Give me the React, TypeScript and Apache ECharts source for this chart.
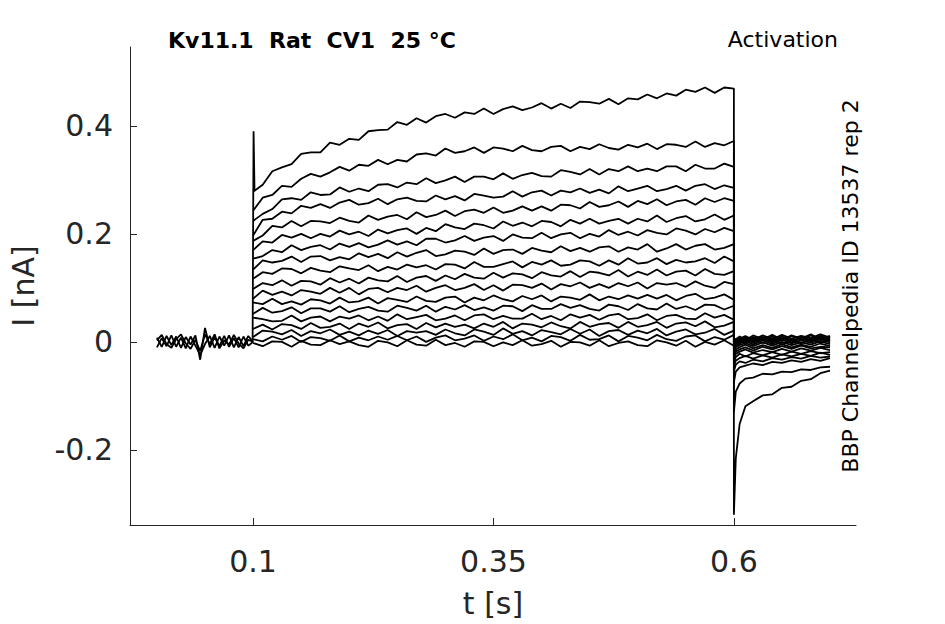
import React, { useEffect, useRef } from "react";
import * as echarts from "echarts";

// Axis ticks
const xTicks = [0.1, 0.35, 0.6];
const yTicks = [-0.2, 0, 0.2, 0.4];

// Holding period (s) and three overlapping baseline recordings (pA)
const baselineTimes = [0, 0.005, 0.01, 0.015, 0.02, 0.025, 0.03, 0.035, 0.04, 0.045, 0.05, 0.055, 0.06, 0.065, 0.07, 0.075, 0.08, 0.085, 0.09, 0.095, 0.1];
const baselineA = [8, -9, 11, -6, 10, -11, 9, -5, 12, -33, 26, -10, 9, -8, 11, -9, 7, -10, 10, -7, 0];
const baselineB = [-10, 7, -8, 12, -9, 8, -12, 10, -7, -24, -4, 11, -11, 10, -7, 12, -10, 9, -8, 11, 0];
const baselineC = [3, 13, -4, -11, 5, 14, -3, -13, 4, -17, 14, -4, 14, -12, 3, -5, 13, -3, -12, 4, 0];

// Capacitive transient at step onset
const capTimes = [0.0995, 0.1005, 0.1015];
const capPA = [0, 390, 280];

// Test pulse samples (s)
const stepTimes = [0.1, 0.11, 0.12, 0.13, 0.14, 0.15, 0.16, 0.17, 0.18, 0.19, 0.2, 0.21, 0.22, 0.23, 0.24, 0.25, 0.26, 0.27, 0.28, 0.29, 0.3, 0.31, 0.32, 0.33, 0.34, 0.35, 0.36, 0.37, 0.38, 0.39, 0.4, 0.41, 0.42, 0.43, 0.44, 0.45, 0.46, 0.47, 0.48, 0.49, 0.5, 0.51, 0.52, 0.53, 0.54, 0.55, 0.56, 0.57, 0.58, 0.59, 0.6];

// Currents during the test pulse, one row per sweep (pA)
const stepTracesPA = [
  [278, 291, 316, 323, 329, 348, 351, 351, 369, 365, 376, 374, 390, 392, 393, 407, 402, 414, 406, 418, 422, 415, 425, 422, 432, 422, 431, 436, 429, 434, 442, 432, 441, 433, 445, 444, 441, 450, 440, 451, 449, 458, 451, 460, 456, 467, 463, 471, 461, 471, 469],
  [243, 267, 272, 289, 287, 302, 311, 306, 314, 324, 317, 328, 326, 337, 329, 337, 334, 347, 349, 345, 358, 350, 353, 360, 350, 360, 358, 353, 363, 355, 353, 361, 363, 353, 361, 357, 366, 359, 356, 365, 360, 367, 357, 366, 365, 361, 371, 361, 368, 364, 372],
  [224, 237, 246, 264, 266, 263, 277, 272, 273, 286, 278, 284, 279, 291, 292, 286, 295, 292, 303, 294, 299, 306, 296, 306, 306, 301, 312, 302, 309, 313, 307, 306, 318, 315, 310, 320, 310, 320, 316, 325, 316, 321, 316, 325, 325, 316, 328, 321, 321, 330, 324],
  [197, 226, 228, 241, 238, 252, 248, 255, 248, 258, 263, 254, 257, 265, 255, 264, 267, 261, 260, 271, 264, 270, 262, 274, 271, 267, 269, 279, 269, 277, 280, 271, 280, 277, 284, 276, 282, 275, 288, 279, 284, 289, 279, 283, 289, 280, 289, 292, 283, 290, 285],
  [187, 197, 215, 212, 224, 214, 224, 223, 220, 230, 224, 221, 234, 226, 232, 235, 227, 240, 231, 235, 243, 233, 242, 245, 239, 249, 239, 243, 251, 243, 251, 243, 254, 253, 247, 259, 250, 253, 260, 250, 261, 255, 264, 253, 260, 263, 254, 266, 259, 266, 261],
  [170, 186, 184, 198, 193, 200, 192, 200, 195, 206, 199, 204, 196, 208, 201, 207, 210, 200, 211, 205, 218, 212, 209, 219, 216, 210, 223, 215, 221, 214, 224, 222, 214, 226, 219, 228, 219, 224, 228, 219, 228, 223, 234, 222, 229, 233, 223, 227, 236, 226, 234],
  [154, 159, 170, 166, 179, 170, 176, 179, 171, 182, 176, 183, 175, 180, 188, 180, 186, 179, 191, 191, 184, 188, 196, 187, 193, 196, 187, 199, 193, 192, 202, 192, 199, 202, 192, 200, 195, 207, 198, 204, 197, 207, 202, 199, 210, 206, 199, 209, 203, 211, 205],
  [134, 151, 147, 150, 158, 148, 158, 159, 151, 157, 153, 164, 157, 163, 155, 166, 158, 165, 170, 159, 162, 169, 167, 161, 173, 163, 170, 171, 163, 174, 169, 166, 177, 168, 174, 167, 175, 177, 167, 175, 171, 181, 167, 173, 181, 171, 178, 181, 171, 174, 181],
  [117, 129, 126, 136, 135, 127, 137, 132, 129, 140, 136, 133, 142, 131, 139, 134, 143, 138, 142, 134, 144, 143, 136, 148, 139, 139, 144, 149, 138, 148, 143, 151, 141, 143, 151, 149, 141, 151, 143, 155, 145, 147, 155, 144, 152, 147, 149, 155, 146, 158, 149],
  [98, 109, 105, 114, 104, 113, 112, 106, 118, 110, 117, 108, 119, 114, 112, 122, 111, 119, 122, 113, 123, 116, 126, 119, 117, 128, 119, 127, 125, 118, 129, 123, 121, 131, 120, 130, 128, 123, 133, 121, 130, 124, 134, 123, 130, 132, 123, 135, 126, 124, 131],
  [80, 95, 87, 93, 86, 96, 93, 89, 100, 91, 100, 88, 98, 100, 92, 100, 96, 104, 93, 100, 105, 96, 100, 107, 96, 105, 95, 106, 105, 100, 108, 97, 107, 103, 110, 100, 107, 100, 109, 103, 110, 99, 109, 106, 109, 102, 112, 104, 100, 111, 107],
  [73, 70, 80, 70, 75, 69, 79, 77, 71, 82, 73, 75, 82, 71, 81, 78, 74, 84, 76, 74, 82, 84, 73, 82, 77, 86, 79, 75, 85, 79, 86, 75, 84, 82, 78, 88, 77, 84, 79, 86, 80, 87, 80, 87, 77, 85, 89, 79, 82, 88, 78],
  [52, 63, 54, 57, 64, 53, 62, 62, 56, 66, 55, 61, 65, 58, 56, 67, 63, 58, 67, 56, 65, 60, 68, 59, 64, 58, 67, 66, 57, 68, 61, 61, 70, 63, 68, 61, 58, 69, 66, 59, 70, 62, 60, 71, 61, 66, 59, 69, 68, 60, 67],
  [45, 42, 38, 39, 49, 38, 45, 47, 38, 47, 43, 49, 40, 47, 39, 51, 42, 46, 50, 40, 43, 49, 40, 49, 51, 42, 48, 43, 43, 52, 42, 48, 40, 51, 45, 50, 41, 49, 52, 42, 44, 51, 40, 48, 50, 43, 42, 53, 45, 50, 41],
  [24, 32, 23, 33, 31, 24, 35, 26, 28, 34, 24, 34, 28, 36, 25, 31, 33, 24, 35, 27, 34, 28, 32, 25, 34, 28, 37, 25, 34, 32, 27, 36, 29, 25, 37, 28, 33, 35, 26, 37, 28, 31, 37, 26, 34, 36, 29, 38, 27, 30, 37],
  [9, 21, 19, 14, 22, 11, 20, 16, 23, 13, 19, 12, 21, 15, 22, 11, 20, 17, 20, 13, 23, 16, 12, 23, 19, 13, 25, 15, 20, 12, 22, 18, 14, 24, 15, 23, 11, 20, 22, 13, 21, 16, 24, 12, 19, 23, 14, 17, 24, 13, 21],
  [5, 1, 10, 4, 11, 0, 9, 7, 2, 12, 1, 8, 3, 10, 4, 11, 3, 10, 0, 8, 12, 3, 6, 12, 2, 10, 5, 14, 3, 8, 1, 11, 9, 2, 13, 4, 5, 12, 1, 11, 8, 3, 13, 5, 2, 10, 12, 1, 9, 4, 13],
  [-2, -8, 1, 0, -9, 2, -5, -6, 3, -4, 1, -6, -9, 2, -1, -8, 3, -5, -7, 4, -6, -2, -9, 1, 0, -8, -1, -6, 3, -7, -4, 2, -9, 0, -1, -7, 3, -8, -2, 1, -6, -8, 3, -1, -7, 2, -9, 0, -5, 3, -7],
];

// Tail currents after repolarisation (s, pA)
const tailTimes = [0.6, 0.602, 0.606, 0.612, 0.62, 0.63, 0.64, 0.65, 0.66, 0.67, 0.68, 0.69, 0.7];
const tailTracesPA = [
  [-320, -215, -152, -119, -110, -99, -97, -85, -83, -72, -69, -58, -53],
  [-130, -92, -77, -68, -66, -59, -60, -55, -56, -51, -52, -47, -46],
  [-75, -55, -47, -44, -40, -43, -37, -39, -34, -37, -32, -35, -30],
  [-55, -42, -36, -39, -33, -36, -30, -33, -28, -31, -26, -29, -27],
  [-45, -35, -30, -26, -31, -25, -29, -23, -27, -22, -26, -20, -24],
  [-38, -28, -22, -27, -21, -25, -19, -24, -18, -22, -17, -21, -19],
  [-30, -22, -18, -14, -20, -15, -19, -13, -18, -12, -16, -11, -15],
  [-25, -18, -14, -10, -16, -9, -14, -8, -13, -7, -12, -9, -10],
  [-20, -14, -10, -5, -12, -6, -11, -4, -10, -5, -9, -3, -8],
  [-16, -10, -6, -2, -8, -1, -7, 0, -6, -1, -5, 1, -4],
  [-12, -7, -3, 2, -5, 3, -4, 4, -3, 3, -2, 5, -1],
  [-9, -4, 0, 5, -2, 6, -1, 7, 0, 6, 1, 8, 2],
  [-6, -2, 3, 8, 1, 9, 2, 10, 3, 8, 4, 11, 5],
  [-4, 1, 6, 11, 4, 12, 5, 13, 6, 11, 7, 14, 8],
  [-2, 3, 8, 1, 9, 3, 10, 2, 11, 4, 12, 3, 10],
  [0, 5, 10, 3, 12, 5, 13, 4, 12, 6, 14, 5, 11],
  [1, 6, -2, 8, 0, 9, 1, 10, -1, 8, 2, 9, 3],
  [2, -4, 5, -3, 6, -2, 7, -5, 4, -3, 6, -2, 4],
];

const FONT = "DejaVu Sans";
const AXIS_COLOR = "#262626";
const PA_PER_NA = 1000;

export default function App() {
  const ref = useRef<HTMLDivElement>(null);

  useEffect(() => {
    document.body.style.margin = "0";
    const chart = echarts.init(ref.current as HTMLDivElement, null, { renderer: "svg" });

    const line = (data: number[][]) => ({
      type: "line",
      data,
      showSymbol: false,
      symbol: "none",
      silent: true,
      lineStyle: { color: "#000", width: 1.8 },
    });

    const series: any[] = [];
    [baselineA, baselineB, baselineC].forEach((b) => {
      series.push(line(baselineTimes.map((t, i) => [t, b[i] / PA_PER_NA])));
    });
    series.push(line(capTimes.map((t, i) => [t, capPA[i] / PA_PER_NA])));
    stepTracesPA.forEach((tr, k) => {
      const d = [
        ...stepTimes.map((t, i) => [t, tr[i] / PA_PER_NA]),
        ...tailTimes.map((t, i) => [t, tailTracesPA[k][i] / PA_PER_NA]),
      ];
      series.push(line(d));
    });

    chart.setOption({
      animation: false,
      backgroundColor: "#fff",
      grid: { left: 130, right: 89, top: 47, bottom: 99, containLabel: false, outerBoundsMode: "none" },
      xAxis: {
        type: "value",
        min: -0.028,
        max: 0.727,
        axisLine: { show: true, onZero: false, lineStyle: { color: AXIS_COLOR, width: 1 } },
        axisTick: { show: true, inside: true, length: 7, customValues: xTicks, lineStyle: { color: AXIS_COLOR } },
        axisLabel: {
          customValues: xTicks,
          fontSize: 30,
          fontFamily: FONT,
          color: AXIS_COLOR,
          margin: 21,
          formatter: (v: number) => String(v),
        },
        splitLine: { show: false },
        name: "t [s]",
        nameLocation: "middle",
        nameGap: 63,
        nameTextStyle: { fontSize: 30, fontFamily: FONT, color: AXIS_COLOR },
      },
      yAxis: {
        type: "value",
        min: -0.339,
        max: 0.546,
        axisLine: { show: true, onZero: false, lineStyle: { color: AXIS_COLOR, width: 1 } },
        axisTick: { show: true, inside: true, length: 7, customValues: yTicks, lineStyle: { color: AXIS_COLOR } },
        axisLabel: {
          customValues: yTicks,
          fontSize: 30,
          fontFamily: FONT,
          color: AXIS_COLOR,
          margin: 17,
          formatter: (v: number) => String(v),
        },
        splitLine: { show: false },
        name: "I [nA]",
        nameLocation: "middle",
        nameRotate: 90,
        nameGap: 92,
        nameTextStyle: { fontSize: 30, fontFamily: FONT, color: AXIS_COLOR },
      },
      graphic: [
        {
          type: "text",
          x: 168,
          y: 40,
          silent: true,
          style: {
            text: "Kv11.1\u00a0\u00a0Rat\u00a0\u00a0CV1\u00a0\u00a025\u00a0°C",
            fontFamily: FONT,
            fontSize: 22,
            fontWeight: "bold",
            fill: "#000",
            align: "left",
            verticalAlign: "middle",
          },
        },
        {
          type: "text",
          x: 838,
          y: 39,
          silent: true,
          style: {
            text: "Activation",
            fontFamily: FONT,
            fontSize: 22,
            fill: "#000",
            align: "right",
            verticalAlign: "middle",
          },
        },
        {
          type: "text",
          x: 850,
          y: 286,
          rotation: Math.PI / 2,
          silent: true,
          style: {
            text: "BBP Channelpedia ID 13537 rep 2",
            fontFamily: FONT,
            fontSize: 22,
            fill: "#000",
            align: "center",
            verticalAlign: "middle",
          },
        },
      ],
      series,
    });

    return () => chart.dispose();
  }, []);

  return <div ref={ref} style={{ width: 945, height: 624 }} />;
}
